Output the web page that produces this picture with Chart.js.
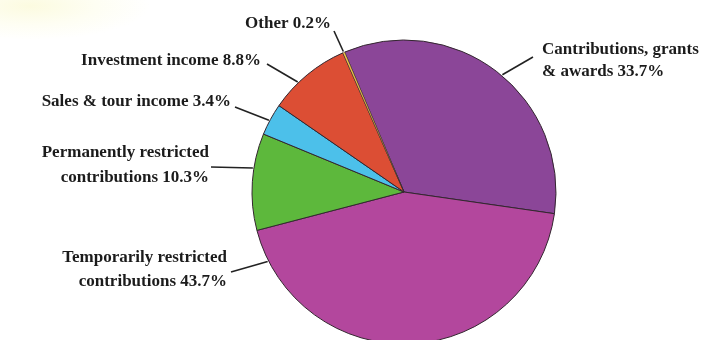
<!DOCTYPE html>
<html>
<head>
<meta charset="utf-8">
<script src="https://cdn.jsdelivr.net/npm/chart.js@4.4.1/dist/chart.umd.min.js"></script>
<style>
  html, body {
    margin: 0;
    padding: 0;
    width: 702px;
    height: 340px;
    overflow: hidden;
    background: radial-gradient(ellipse 120px 34px at 30px 6px, #fcfbe0 0%, #fefef3 55%, #ffffff 100%);
  }
  #chart { display: block; }
</style>
</head>
<body>
<canvas id="chart" width="702" height="380"></canvas>
<script>
// slices, clockwise from the top
const categories = [
    'Contributions, grants & awards',
    'Temporarily restricted contributions',
    'Permanently restricted contributions',
    'Sales & tour income',
    'Investment income',
    'Other'
];
const shares = [33.7, 43.7, 10.3, 3.4, 8.8, 0.2];
const labelLines = [
    ['Cantributions, grants', '& awards 33.7%'],
    ['Temporarily restricted', 'contributions 43.7%'],
    ['Permanently restricted', 'contributions 10.3%'],
    ['Sales & tour income 3.4%'],
    ['Investment income 8.8%'],
    ['Other 0.2%']
];

const sliceColors = ['#8b4698', '#b3479d', '#5db83c', '#4cc0ea', '#dc4e34', '#f7cb4a'];

// where each label sits and where its leader line starts / meets the pie (degrees from top)
const labelLayout = [
    { x: 542, ys: [50, 72], align: 'left', from: [533, 57], angle: 40 },
    { x: 227, ys: [258, 282], align: 'right', from: [231, 272], angle: 243 },
    { x: 209, ys: [153, 178], align: 'right', from: [211, 167], angle: 279 },
    { x: 231, ys: [102], align: 'right', from: [235, 107], angle: 298 },
    { x: 261, ys: [61], align: 'right', from: [267, 64], angle: 316 },
    { x: 331, ys: [24], align: 'right', from: [334, 31], angle: null }
];

const calloutPlugin = {
    id: 'callouts',
    afterDraw(chart) {
        const c = chart.ctx;
        const meta = chart.getDatasetMeta(0);
        c.save();
        c.strokeStyle = '#222';
        c.lineWidth = 1.6;
        c.fillStyle = '#1b1b1b';
        c.font = 'bold 17px "Liberation Serif", serif';
        c.textBaseline = 'middle';
        meta.data.forEach((arc, i) => {
            const lay = labelLayout[i];
            const r = arc.outerRadius + 1;
            let a;
            if (lay.angle === null) {
                a = (arc.startAngle + arc.endAngle) / 2;
            } else {
                a = (lay.angle - 90) * Math.PI / 180;
            }
            c.beginPath();
            c.moveTo(lay.from[0], lay.from[1]);
            c.lineTo(arc.x + Math.cos(a) * r, arc.y + Math.sin(a) * r);
            c.stroke();
            c.textAlign = lay.align;
            labelLines[i].forEach((line, j) => {
                c.fillText(line, lay.x, lay.ys[j]);
            });
        });
        c.restore();
    }
};

new Chart(document.getElementById('chart'), {
    type: 'pie',
    data: {
        labels: categories,
        datasets: [{
            data: shares,
            backgroundColor: sliceColors,
            borderColor: '#33262f',
            borderWidth: [1, 1, 1, 1, 1, 0.4],
            hoverOffset: 0,
            radius: 152
        }]
    },
    options: {
        responsive: false,
        animation: false,
        rotation: -23,
        layout: { padding: { left: 252, right: 146, top: 40, bottom: 36 } },
        plugins: {
            legend: { display: false },
            tooltip: { enabled: false }
        }
    },
    plugins: [calloutPlugin]
});
</script>
</body>
</html>
